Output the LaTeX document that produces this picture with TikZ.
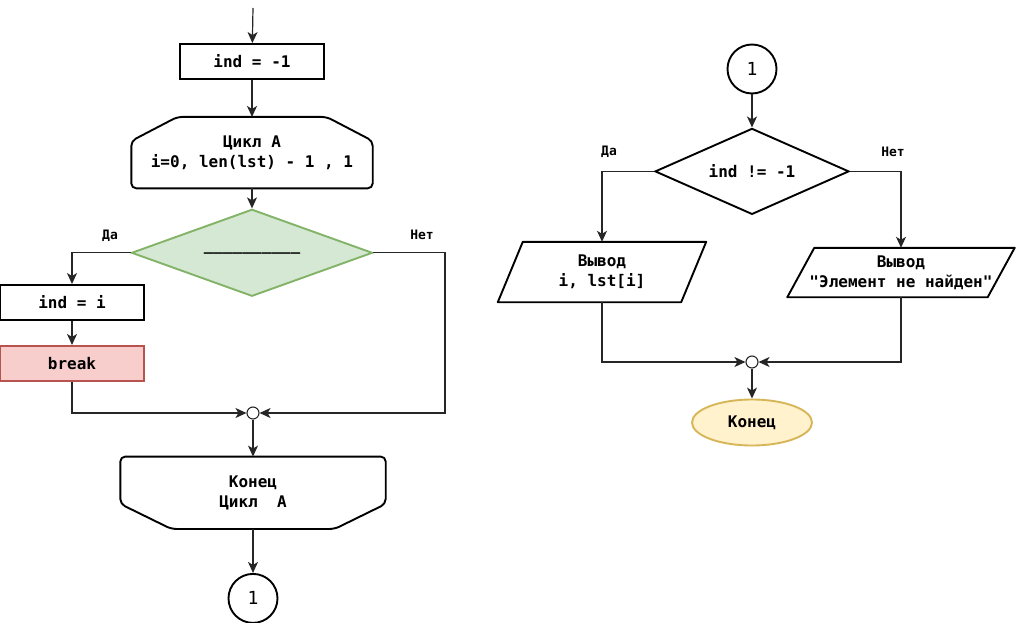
\documentclass[tikz,border=0pt]{standalone}
\usepackage{fontspec}
\setmonofont{DejaVu Sans Mono}
\usepackage{tikz}
\usetikzlibrary{shapes.geometric, arrows.meta, positioning, calc}
\definecolor{condfill}{HTML}{D5E8D4}
\definecolor{condline}{HTML}{82B366}
\definecolor{breakfill}{HTML}{F8CECC}
\definecolor{breakline}{HTML}{B85450}
\definecolor{endfill}{HTML}{FFF2CC}
\definecolor{endline}{HTML}{D6B656}

\begin{document}
\begin{tikzpicture}[
    x=1pt, y=-1pt,
    base/.style={font=\ttfamily\bfseries\fontsize{16}{20}\selectfont, align=center, inner sep=2pt},
    proc/.style={base, draw, line width=1.9pt, minimum width=144pt, minimum height=35pt},
    loopbox/.style={base, minimum width=241pt, minimum height=71pt},
    loopendbox/.style={base, minimum width=265pt, minimum height=72pt},
    outline/.style={line width=1.9pt, line join=round, rounded corners=5pt},
    cond/.style={base, diamond, draw, line width=1.9pt, inner sep=0pt},
    iobox/.style={base, inner sep=0pt},
    conn/.style={circle, draw, line width=1.9pt, minimum size=49pt,
                 font=\ttfamily\fontsize{18}{20}\selectfont},
    junction/.style={circle, draw=black!85, line width=1.1pt, minimum size=12pt, inner sep=0pt},
    term/.style={base, ellipse, draw=endline, fill=endfill, line width=1.9pt,
                 minimum width=120pt, minimum height=46pt},
    wire/.style={draw=black!85, line width=1.2pt},
    flow/.style={wire, -{Stealth[length=11pt,width=10pt,inset=3pt]}},
    lbl/.style={font=\ttfamily\bfseries\fontsize{13}{15}\selectfont}
]
    \useasboundingbox (0,0) rectangle (1018,623);

    % --- left part: loop ---
    \coordinate (start) at (253,8);
    \node[proc] (init) at (252,61.5) {ind = -1};
    \node[loopbox, below=37pt of init] (loopA) {Цикл А\\i=0, len(lst) - 1 , 1};
    \draw[outline] ($(loopA.north west)+(46,0)$) -- ($(loopA.north east)+(-46,0)$)
        -- ($(loopA.north east)+(0,24)$) -- (loopA.south east)
        -- (loopA.south west) -- ($(loopA.north west)+(0,24)$) -- cycle;
    \node[cond, fill=condfill, draw=condline, minimum width=241pt, minimum height=87pt,
          aspect=2.77, below=20pt of loopA] (check) {\_\_\_\_\_\_\_\_\_\_};
    \node[proc] (setind) at (72,302.5) {ind = i};
    \node[proc, fill=breakfill, draw=breakline, below=24pt of setind] (brk) {break};
    \node[junction] (joinA) at (253,413) {};
    \coordinate (noA) at (445,413);
    \node[loopendbox, below=37pt of joinA] (loopEnd) {Конец\\Цикл\ \ А};
    \draw[outline] (loopEnd.north west) -- (loopEnd.north east)
        -- ($(loopEnd.south east)+(0,-25)$) -- ($(loopEnd.south east)+(-51,0)$)
        -- ($(loopEnd.south west)+(51,0)$) -- ($(loopEnd.south west)+(0,-25)$) -- cycle;
    \node[conn, below=44pt of loopEnd] (goA) {1};

    \node[lbl] at (110,236) {Да};
    \node[lbl] at (422,235) {Нет};

    \draw[flow] (start) -- (init);
    \draw[flow] (init) -- (loopA);
    \draw[flow] (loopA) -- (check);
    \draw[flow] (check.west) -| (setind.north);
    \draw[flow] (setind) -- (brk);
    \draw[flow] (brk.south) |- (joinA.west);
    \draw[flow] (check.east) -| (noA) -- (joinA.east);
    \draw[flow] (joinA) -- (loopEnd);
    \draw[flow] (loopEnd) -- (goA);

    % --- right part: result ---
    \node[conn] (fromA) at (752,69) {1};
    \node[cond, minimum width=194pt, minimum height=86pt, aspect=2.26,
          below=33pt of fromA] (found) {ind != -1};
    \node[iobox, minimum width=183pt, minimum height=60pt] (outYes) at (602,272) {Вывод\\i, lst[i]};
    \draw[line width=1.9pt, line join=round]
        ($(outYes.north west)+(12.5,0)$) -- ($(outYes.north east)+(12.5,0)$)
        -- ($(outYes.south east)+(-12.5,0)$) -- ($(outYes.south west)+(-12.5,0)$) -- cycle;
    \node[iobox, minimum width=200pt, minimum height=49pt] (outNo) at (901,272.5) {Вывод\\"Элемент не найден"};
    \draw[line width=1.9pt, line join=round]
        ($(outNo.north west)+(13.5,0)$) -- ($(outNo.north east)+(13.5,0)$)
        -- ($(outNo.south east)+(-13.5,0)$) -- ($(outNo.south west)+(-13.5,0)$) -- cycle;
    \node[junction] (joinB) at (752,362) {};
    \node[term, below=30pt of joinB] (stop) {Конец};

    \node[lbl] at (609,152) {Да};
    \node[lbl] at (893,152) {Нет};

    \draw[flow] (fromA) -- (found);
    \draw[flow] (found.west) -| (outYes.north);
    \draw[flow] (found.east) -| (outNo.north);
    \draw[flow] (outYes.south) |- (joinB.west);
    \draw[flow] (outNo.south) |- (joinB.east);
    \draw[flow] (joinB) -- (stop);
\end{tikzpicture}
\end{document}
